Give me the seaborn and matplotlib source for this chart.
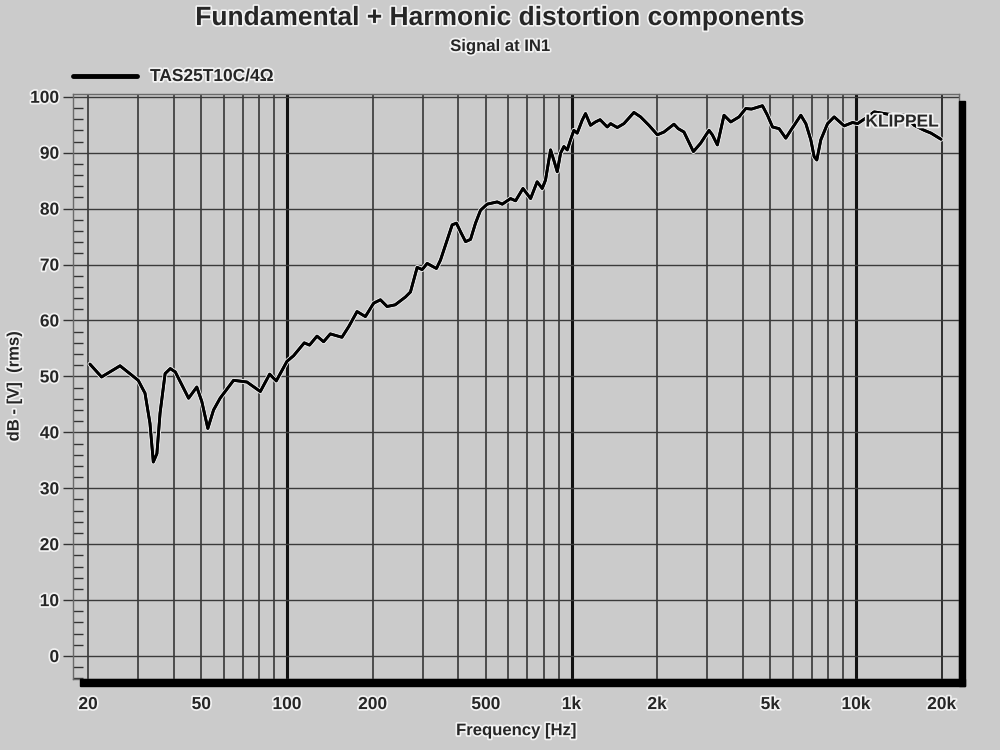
import pandas as pd
import seaborn as sns
import matplotlib.pyplot as plt
import matplotlib.patheffects as pe
from matplotlib.lines import Line2D
from matplotlib.patches import Rectangle
from matplotlib.ticker import FixedLocator, FixedFormatter, NullFormatter

# response curve (Hz, dB)
freq_hz = [20.3, 22.3, 25.9, 30.0, 31.7, 33.0, 33.9, 34.9, 35.8, 37.3,
           38.9, 40.5, 42.7, 45.1, 48.2, 50.2, 52.7, 55.2, 58.2, 64.9,
           72.3, 80.6, 86.9, 91.7, 100, 105.5, 115, 120, 127.5, 134.5,
           142, 156, 164.8, 176.3, 188.6, 201.7, 213, 224.8, 240, 260.8,
           271.6, 286.8, 298.5, 310.9, 335.2, 346.3, 365.6, 380.7, 394, 407,
           424.2, 441.6, 459.8, 478.8, 505.3, 548, 570.9, 610.6, 635.8, 675,
           718, 757, 789, 810, 844, 866, 891, 915, 940, 966,
           992, 1019, 1047, 1090, 1120, 1166, 1214, 1260, 1335, 1372,
           1448, 1528, 1657, 1749, 1871, 2003, 2113, 2291, 2371, 2484,
           2681, 2843, 3042, 3125, 3255, 3435, 3627, 3879, 4096, 4290,
           4688, 4882, 5085, 5363, 5662, 5897, 6395, 6660, 6934, 7121,
           7278, 7518, 7940, 8375, 9081, 9721, 10120, 10980, 11580, 12910,
           14770, 16010, 17360, 18340, 19890]
level_db = [52.2, 49.9, 51.9, 49.3, 47.0, 41.6, 34.7, 36.2, 43.4, 50.5,
            51.4, 50.8, 48.5, 46.1, 48.1, 45.5, 40.7, 44.0, 46.1, 49.3,
            49.0, 47.3, 50.4, 49.2, 52.7, 53.7, 56.0, 55.6, 57.2, 56.2,
            57.6, 57.0, 58.9, 61.6, 60.7, 63.1, 63.7, 62.5, 62.8, 64.2,
            65.1, 69.5, 69.1, 70.2, 69.3, 70.8, 74.4, 77.1, 77.4, 75.9,
            74.1, 74.5, 77.4, 79.7, 80.8, 81.2, 80.8, 81.8, 81.4, 83.6,
            81.8, 84.8, 83.6, 85.1, 90.5, 88.7, 86.6, 89.9, 91.1, 90.5,
            92.3, 94.0, 93.5, 95.8, 97.0, 94.9, 95.5, 95.9, 94.6, 95.2,
            94.5, 95.2, 97.2, 96.4, 94.9, 93.2, 93.7, 95.1, 94.3, 93.7,
            90.2, 91.7, 94.0, 93.2, 91.4, 96.7, 95.5, 96.4, 97.9, 97.8,
            98.4, 96.7, 94.6, 94.3, 92.6, 94.0, 96.7, 95.2, 92.3, 89.3,
            88.7, 92.3, 95.2, 96.4, 94.8, 95.4, 95.2, 96.4, 97.3, 96.9,
            96.7, 94.9, 94.0, 93.5, 92.4]

x_ticks = [20, 50, 100, 200, 500, 1000, 2000, 5000, 10000, 20000]
x_labels = ["20", "50", "100", "200", "500", "1k", "2k", "5k", "10k", "20k"]
x_grid = [m * d for d in (10, 100, 1000, 10000) for m in range(2, 10)] + [20000]
decades = [100, 1000, 10000]
y_ticks = list(range(0, 101, 10))
y_minor = list(range(-4, 101, 2))
series_name = "TAS25T10C/4\u03a9"

bg = "#cbcbcb"
halo = [pe.withStroke(linewidth=2.5, foreground="#f2f2f2")]

sns.set_theme(style="white")
plt.rcParams["font.family"] = ["Liberation Sans", "DejaVu Sans"]

df = pd.DataFrame({"freq": freq_hz, "db": level_db})

fig = plt.figure(figsize=(10, 7.5), dpi=100, facecolor=bg)
ax = fig.add_axes([0.073, 0.0947, 0.886, 0.78], facecolor=bg)

# grid first so the curve sits on top
for f in x_grid:
    ax.axvline(f, color="#2a2a2a", lw=1.1, zorder=1)
for f in decades:
    ax.axvline(f, color="#111111", lw=2.2, zorder=1)
for v in y_ticks:
    ax.axhline(v, color="#3a3a3a", lw=1.0, zorder=1)

sns.lineplot(data=df, x="freq", y="db", color="black", lw=2.0,
             ax=ax, zorder=3, legend=False)
ax.lines[-1].set_path_effects([pe.withStroke(linewidth=3.5, foreground="#e8e8e8"),
                               pe.Normal()])

ax.set_xscale("log")
ax.set_xlim(17.7, 23000)
ax.set_ylim(-4.1, 100.5)

ax.xaxis.set_major_locator(FixedLocator(x_ticks))
ax.xaxis.set_major_formatter(FixedFormatter(x_labels))
ax.xaxis.set_minor_locator(FixedLocator([]))
ax.xaxis.set_minor_formatter(NullFormatter())
ax.tick_params(axis="x", which="major", length=0, pad=13, labelsize=12.5)

ax.yaxis.set_major_locator(FixedLocator(y_ticks))
ax.yaxis.set_minor_locator(FixedLocator(y_minor))
ax.tick_params(axis="y", which="major", direction="out", length=7, width=1,
               color="#333333", pad=3, labelsize=12.5, left=True)
ax.tick_params(axis="y", which="minor", direction="in", length=7, width=1,
               color="#333333", left=True)

for lab in ax.get_xticklabels() + ax.get_yticklabels():
    lab.set_fontweight("bold")
    lab.set_path_effects(halo)

for s in ax.spines.values():
    s.set_color("#6a6a6a")
    s.set_linewidth(1.0)

ax.set_xlabel("Frequency [Hz]", fontsize=12, fontweight="bold", labelpad=8,
              path_effects=halo)
ax.set_ylabel("dB - [V]  (rms)", fontsize=12, fontweight="bold",
              path_effects=halo)
ax.yaxis.set_label_coords(-0.058, 0.5)

# drop shadow along bottom and right edges
fig.add_artist(Rectangle((0.080, 0.0853), 0.885, 0.0094, transform=fig.transFigure,
                         color="black", zorder=5))
fig.add_artist(Rectangle((0.959, 0.0853), 0.006, 0.78, transform=fig.transFigure,
                         color="black", zorder=5))

fig.text(0.5, 0.976, "Fundamental + Harmonic distortion components",
         ha="center", va="center", fontsize=19, fontweight="bold",
         path_effects=halo)
fig.text(0.5, 0.938, "Signal at IN1", ha="center", va="center",
         fontsize=12, fontweight="bold", path_effects=halo)

# legend
fig.add_artist(Line2D([0.073, 0.137], [0.899, 0.899], transform=fig.transFigure,
                      color="black", lw=3.5))
fig.text(0.150, 0.898, series_name, ha="left", va="center", fontsize=12.5,
         fontweight="bold", path_effects=halo)

ax.text(0.9357, 0.952, "KLIPPEL", transform=ax.transAxes, ha="center",
        va="center", fontsize=12.5, fontweight="bold", zorder=4, path_effects=halo)

fig.savefig("out.png", dpi=100, facecolor=bg)
